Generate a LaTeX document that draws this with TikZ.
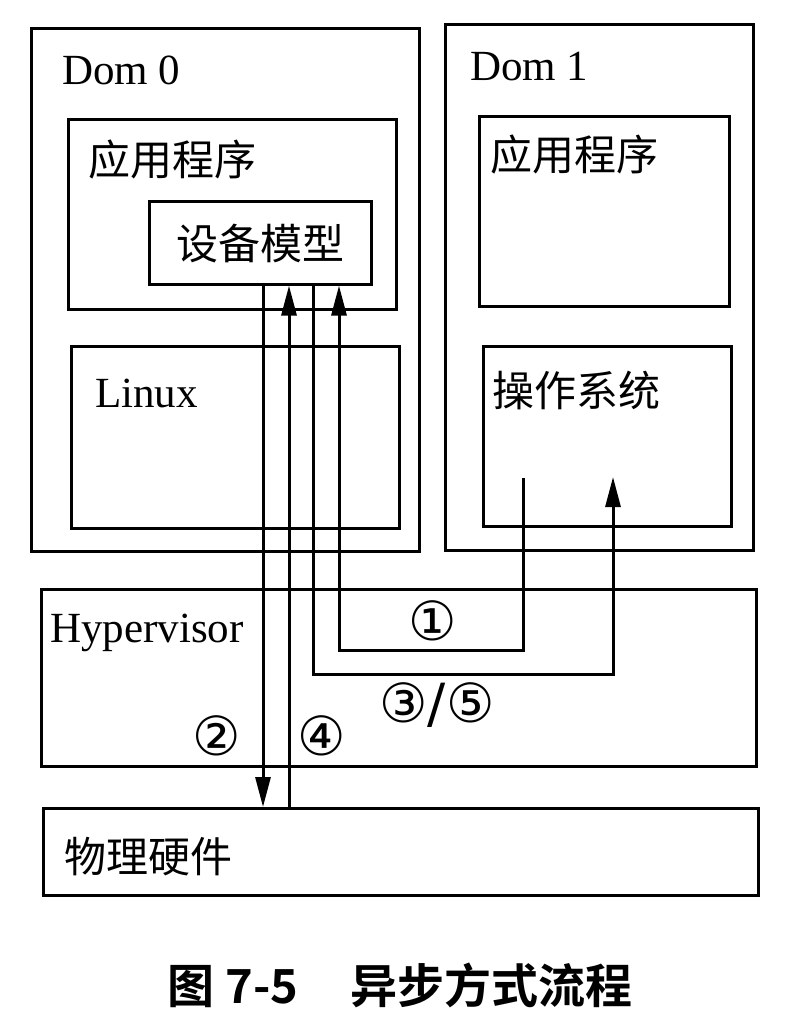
\documentclass[tikz,border=0pt]{standalone}
\usepackage{fontspec}
\setmainfont{Liberation Serif}
\newfontfamily\cjk{Noto Sans CJK SC}
\newfontfamily\cjkb{Noto Sans CJK SC Bold}
\newfontfamily\sym{DejaVu Sans}
\usetikzlibrary{arrows.meta,calc}
\begin{document}
\begin{tikzpicture}[x=1pt,y=-1pt,
  box/.style={draw,line width=2.6pt,anchor=north west,inner sep=0pt},
  lbl/.style={anchor=west,inner sep=0pt,font=\fontsize{43}{46}\selectfont},
  clbl/.style={anchor=west,inner sep=0pt,font=\fontsize{42}{46}\selectfont\cjk},
  num/.style={inner sep=0pt,font=\fontsize{54}{56}\selectfont\sym},
  wire/.style={line width=3pt},
  arr/.style={line width=3pt,-{Triangle[length=30pt,width=15pt]}}]
\useasboundingbox (0,0) rectangle (788,1032);
% boxes
\node[box,minimum width=388pt,minimum height=523pt] (dom0) at (30,27) {};
\node[box,minimum width=308pt,minimum height=526pt] (dom1) at (444,23) {};
\node[box,minimum width=328pt,minimum height=190pt] (app0) at (67,118) {};
\node[box,minimum width=222pt,minimum height=83pt] (dm) at (148,200) {};
\node[box,minimum width=328pt,minimum height=182pt] (linux) at (70,345) {};
\node[box,minimum width=250pt,minimum height=190pt] (app1) at (478,115) {};
\node[box,minimum width=248pt,minimum height=180pt] (os) at (482,345) {};
\node[box,minimum width=715pt,minimum height=177pt] (hyp) at (40,588) {};
\node[box,minimum width=715pt,minimum height=87pt] (hw) at (42,807) {};
% labels
\node[lbl] (t0) at (62,70) {Dom 0};
\node[lbl] (t1) at (470,67) {Dom 1};
\node[clbl] (ta0) at (88,160) {应用程序};
\node[clbl] (tdm) at (176,244) {设备模型};
\node[lbl] (tl) at (95,393) {Linux};
\node[clbl] (ta1) at (490,155) {应用程序};
\node[clbl] (tos) at (492,390) {操作系统};
\node[lbl] (th) at (50,633) {Hypervisor};
\node[clbl] (thw) at (64,857) {物理硬件};
% coordinates
\coordinate (xa) at (263,0);
\coordinate (xb) at (289,0);
\coordinate (xc) at (313,0);
\coordinate (xd) at (339,0);
\coordinate (os1) at (523,478);
\coordinate (os2) at (613,477);
% connectors
\draw[arr] (dm.south -| xa) -- (hw.north -| xa);
\draw[arr] (hw.north -| xb) -- (dm.south -| xb);
\draw[arr] (dm.south -| xc) -- (313,674) -- (613,674) -- (os2);
\draw[arr] (os1) -- (523,650) -- (339,650) -- (dm.south -| xd);
% numbers
\node[num] (n1) at (433,621) {①};
\node[num] (n35) at (437,705) {③/⑤};
\node[num] (n2) at (217,736) {②};
\node[num] (n4) at (322,736) {④};
% caption
\node[inner sep=0pt,font=\fontsize{47}{50}\selectfont\cjkb] (cap) at (400,985) {图 7-5\hspace{1.1em}异步方式流程};
\end{tikzpicture}
\end{document}
